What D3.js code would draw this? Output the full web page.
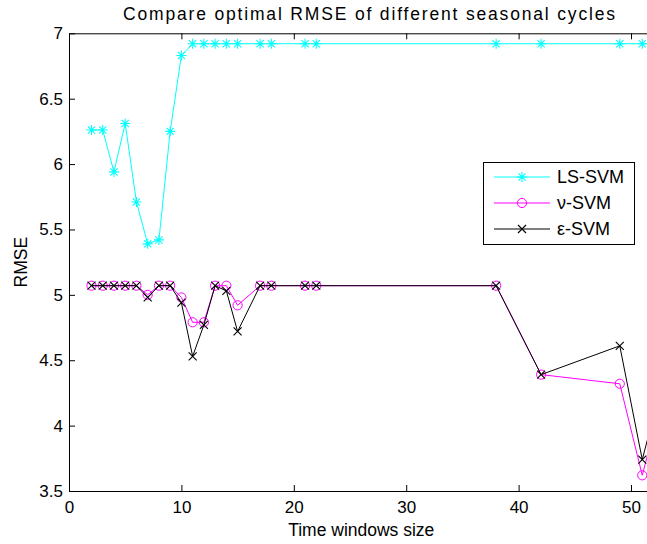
<!DOCTYPE html>
<html>
<head>
<meta charset="utf-8">
<script src="https://cdn.jsdelivr.net/npm/d3@7"></script>
<style>
  html, body { margin: 0; padding: 0; background: #fff; }
  svg { display: block; }
  text { font-family: "Liberation Sans", Arial, Helvetica, sans-serif; fill: #000; }
</style>
</head>
<body>
<svg id="chart" width="647" height="544"></svg>
<script>
// Time window sizes at which each model was evaluated
const windowSizes = [2, 3, 4, 5, 6, 7, 8, 9, 10, 11, 12, 13, 14, 15, 17, 18, 21, 22, 38, 42, 49, 51, 52];

// Optimal RMSE per window size
const lsSvm  = [6.26, 6.26, 5.94, 6.31, 5.71, 5.39, 5.42, 6.25, 6.83, 6.92, 6.92, 6.92, 6.92, 6.92, 6.92, 6.92, 6.92, 6.92, 6.92, 6.92, 6.92, 6.92, 6.92];
const nuSvm  = [5.07, 5.07, 5.07, 5.07, 5.07, 5.00, 5.07, 5.07, 4.98, 4.79, 4.79, 5.07, 5.07, 4.92, 5.07, 5.07, 5.07, 5.07, 5.07, 4.39, 4.32, 3.62, 3.95];
const epsSvm = [5.07, 5.07, 5.07, 5.07, 5.07, 4.98, 5.07, 5.07, 4.94, 4.53, 4.77, 5.07, 5.03, 4.72, 5.07, 5.07, 5.07, 5.07, 5.07, 4.39, 4.61, 3.74, 4.07];

const seriesNames = ["LS-SVM", "\u03bd-SVM", "\u03b5-SVM"];
const xTicks = [0, 10, 20, 30, 40, 50];
const yTicks = [3.5, 4, 4.5, 5, 5.5, 6, 6.5, 7];

const titleText = "Compare optimal RMSE of different seasonal cycles";
const xLabel = "Time windows size";
const yLabel = "RMSE";

const svg = d3.select("#chart");

const plot = { left: 69, right: 653.5, top: 33.3, bottom: 491 };
const x = d3.scaleLinear().domain([0, 52]).range([plot.left, plot.right]);
const y = d3.scaleLinear().domain([3.5, 7]).range([plot.bottom, plot.top]);

const series = [
  { name: seriesNames[0], values: lsSvm,  color: "#00ffff", marker: "star" },
  { name: seriesNames[1], values: nuSvm,  color: "#ff00ff", marker: "circle" },
  { name: seriesNames[2], values: epsSvm, color: "#000000", marker: "cross" }
];

svg.append("defs").append("clipPath").attr("id", "plotClip")
  .append("rect")
  .attr("x", plot.left).attr("y", plot.top)
  .attr("width", plot.right - plot.left).attr("height", plot.bottom - plot.top);

// marker drawing helpers
function drawMarker(g, type, cx, cy, color) {
  if (type === "circle") {
    g.append("circle").attr("cx", cx).attr("cy", cy).attr("r", 4.6)
      .attr("fill", "none").attr("stroke", color).attr("stroke-width", 1);
  } else if (type === "cross") {
    const s = 4;
    g.append("path")
      .attr("d", `M${cx - s},${cy - s}L${cx + s},${cy + s}M${cx - s},${cy + s}L${cx + s},${cy - s}`)
      .attr("stroke", color).attr("stroke-width", 1.1).attr("fill", "none");
  } else if (type === "star") {
    const s = 5, d = 3.6;
    g.append("path")
      .attr("d", `M${cx - s},${cy}L${cx + s},${cy}M${cx},${cy - s}L${cx},${cy + s}` +
                 `M${cx - d},${cy - d}L${cx + d},${cy + d}M${cx - d},${cy + d}L${cx + d},${cy - d}`)
      .attr("stroke", color).attr("stroke-width", 1.1).attr("fill", "none");
  }
}

const dataLayer = svg.append("g").attr("clip-path", "url(#plotClip)");
const line = d3.line().x(d => x(d[0])).y(d => y(d[1]));

series.forEach(s => {
  const pts = windowSizes.map((w, i) => [w, s.values[i]]);
  dataLayer.append("path").datum(pts)
    .attr("d", line)
    .attr("fill", "none")
    .attr("stroke", s.color)
    .attr("stroke-width", 1);
  const mg = dataLayer.append("g");
  pts.forEach(p => drawMarker(mg, s.marker, x(p[0]), y(p[1]), s.color));
});

// axes box with inward ticks
const tickLen = 6;
const axisG = svg.append("g");
const xAxisBottom = d3.axisBottom(x).tickValues(xTicks).tickSizeInner(-tickLen).tickSizeOuter(0).tickPadding(10);
const xAxisTop = d3.axisTop(x).tickValues(xTicks).tickSizeInner(-tickLen).tickSizeOuter(0).tickFormat("");
const yAxisLeft = d3.axisLeft(y).tickValues(yTicks).tickSizeInner(-tickLen).tickSizeOuter(0).tickPadding(6).tickFormat(d3.format("~g"));
const yAxisRight = d3.axisRight(y).tickValues(yTicks).tickSizeInner(-tickLen).tickSizeOuter(0).tickFormat("");

axisG.append("g").attr("transform", `translate(0,${plot.bottom})`).call(xAxisBottom);
axisG.append("g").attr("transform", `translate(0,${plot.top})`).call(xAxisTop);
axisG.append("g").attr("transform", `translate(${plot.left},0)`).call(yAxisLeft);
axisG.append("g").attr("transform", `translate(${plot.right},0)`).call(yAxisRight);

axisG.selectAll(".domain").attr("stroke", "#000").attr("stroke-width", 1);
axisG.selectAll(".tick line").attr("stroke", "#000").attr("stroke-width", 1);
axisG.selectAll(".tick text")
  .style("font-family", '"Liberation Sans", Arial, sans-serif')
  .style("font-size", "17px").attr("fill", "#000");

// title and axis labels
svg.append("text")
  .attr("x", 369).attr("y", 19.5)
  .attr("text-anchor", "middle")
  .attr("textLength", 492).attr("lengthAdjust", "spacing")
  .style("font-size", "17.5px")
  .text(titleText);

svg.append("text")
  .attr("x", (plot.left + plot.right) / 2).attr("y", 535.5)
  .attr("text-anchor", "middle")
  .style("font-size", "17.5px")
  .text(xLabel);

svg.append("text")
  .attr("transform", `translate(27,${(plot.top + plot.bottom) / 2}) rotate(-90)`)
  .attr("text-anchor", "middle")
  .style("font-size", "17.5px")
  .text(yLabel);

// legend
const legend = svg.append("g");
legend.append("rect")
  .attr("x", 483.5).attr("y", 162.5).attr("width", 151).attr("height", 82)
  .attr("fill", "#fff").attr("stroke", "#000").attr("stroke-width", 1);
const rowY = [177, 203, 229];
series.forEach((s, i) => {
  const yy = rowY[i];
  legend.append("line")
    .attr("x1", 494).attr("x2", 550).attr("y1", yy).attr("y2", yy)
    .attr("stroke", s.color).attr("stroke-width", 1);
  drawMarker(legend, s.marker, 522, yy, s.color);
  legend.append("text")
    .attr("x", 557).attr("y", yy + 6.3)
    .style("font-size", "18px")
    .text(s.name);
});
</script>
</body>
</html>
